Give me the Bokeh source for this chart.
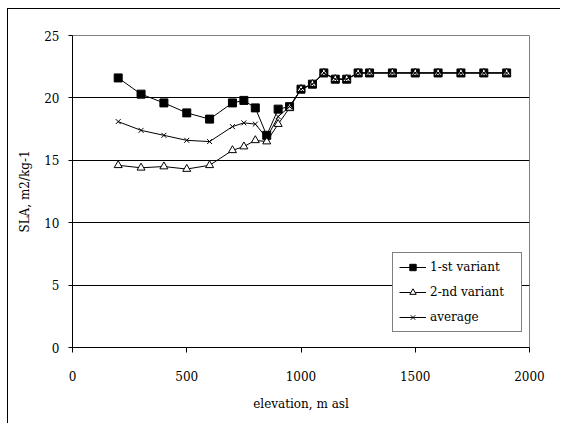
from bokeh.plotting import figure
from bokeh.models import FixedTicker, Legend, LegendItem
from bokeh.embed import file_html
from bokeh.resources import INLINE

elevation = [200, 300, 400, 500, 600, 700, 750, 800, 850, 900, 950, 1000,
             1050, 1100, 1150, 1200, 1250, 1300, 1400, 1500, 1600, 1700, 1800, 1900]
variant1 = [21.6, 20.3, 19.6, 18.8, 18.3, 19.6, 19.8, 19.2, 17.0, 19.1, 19.3, 20.7,
            21.1, 22.0, 21.5, 21.5, 22.0, 22.0, 22.0, 22.0, 22.0, 22.0, 22.0, 22.0]
variant2 = [14.6, 14.4, 14.5, 14.3, 14.6, 15.8, 16.1, 16.6, 16.5, 17.9, 19.2, 20.7,
            21.1, 22.0, 21.5, 21.5, 22.0, 22.0, 22.0, 22.0, 22.0, 22.0, 22.0, 22.0]
average = [18.1, 17.4, 17.0, 16.6, 16.5, 17.7, 18.0, 17.9, 16.8, 18.5, 19.3, 20.7,
           21.1, 22.0, 21.5, 21.5, 22.0, 22.0, 22.0, 22.0, 22.0, 22.0, 22.0, 22.0]
x_ticks = [0, 500, 1000, 1500, 2000]
y_ticks = [0, 5, 10, 15, 20, 25]
grid_ticks = [5, 10, 15, 20]

FONT = "DejaVu Serif"
FS = "12px"

p = figure(width=553, height=415, x_range=(0, 2000), y_range=(0, 25),
           output_backend="svg", toolbar_location=None,
           min_border_left=64, min_border_right=32, min_border_top=26, min_border_bottom=77)
p.margin = (8, 0, 0, 7)
p.styles = {"border-left": "1px solid black", "border-top": "1px solid black"}
p.outline_line_color = "#808080"
p.outline_line_width = 1

p.xgrid.visible = False
p.ygrid.ticker = FixedTicker(ticks=grid_ticks)
p.ygrid.grid_line_color = "black"
p.ygrid.grid_line_width = 1

p.xaxis.ticker = FixedTicker(ticks=x_ticks)
p.yaxis.ticker = FixedTicker(ticks=y_ticks)
for ax in (p.xaxis[0], p.yaxis[0]):
    ax.axis_line_color = "black"
    ax.major_tick_line_color = "black"
    ax.minor_tick_line_color = None
    ax.major_tick_in = 0
    ax.major_label_text_font = FONT
    ax.major_label_text_font_size = FS
    ax.major_label_text_color = "black"
    ax.axis_label_text_font = FONT
    ax.axis_label_text_font_size = FS
    ax.axis_label_text_font_style = "normal"
    ax.axis_label_text_color = "black"

p.xaxis.major_tick_out = 5
p.xaxis.major_label_standoff = 18
p.xaxis.axis_label = "elevation, m asl"
p.xaxis.axis_label_standoff = 13
p.yaxis.major_tick_out = 4
p.yaxis.major_label_standoff = 9
p.yaxis.axis_label = "SLA, m2/kg-1"
p.yaxis.axis_label_standoff = 9

l1 = p.line(elevation, variant1, line_color="black", line_width=1)
m1 = p.scatter(elevation, variant1, marker="square", size=8, fill_color="black", line_color="black")
l2 = p.line(elevation, variant2, line_color="black", line_width=1)
m2 = p.scatter(elevation, variant2, marker="triangle", size=8, fill_color="white", line_color="black")
l3 = p.line(elevation, average, line_color="black", line_width=1)
m3 = p.scatter(elevation, average, marker="x", size=7, line_color="black")

legend = Legend(items=[
    LegendItem(label="1-st variant", renderers=[l1, m1]),
    LegendItem(label="2-nd variant", renderers=[l2, m2]),
    LegendItem(label="average", renderers=[l3, m3]),
], location=(320, 15))
legend.margin = 0
legend.padding = 6
legend.spacing = 9
legend.glyph_height = 16
legend.label_height = 16
legend.label_width = 85
legend.glyph_width = 27
legend.label_standoff = 4
legend.border_line_color = "black"
legend.border_line_width = 1
legend.background_fill_color = "white"
legend.background_fill_alpha = 1
legend.label_text_font = FONT
legend.label_text_font_size = FS
legend.label_text_color = "black"
p.add_layout(legend, "center")

open("out.html", "w").write(file_html(p, INLINE))
